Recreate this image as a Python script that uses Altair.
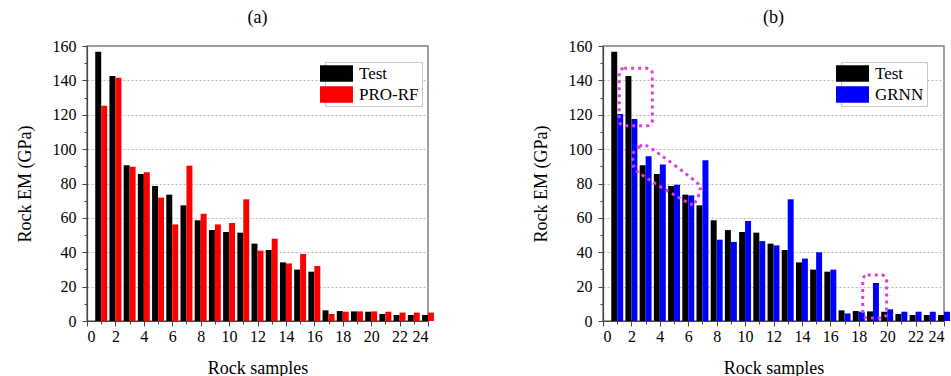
import altair as alt
import pandas as pd

samples = list(range(1, 25))
test = [156.7, 142.5, 90.6, 85.5, 78.5, 73.5, 67.3, 58.6, 52.9, 51.8, 51.4, 45.0,
        41.3, 34.1, 29.9, 28.7, 6.2, 5.8, 5.6, 5.4, 4.1, 3.5, 3.5, 3.5]
pro_rf = [125.2, 141.6, 89.8, 86.5, 71.8, 56.2, 90.4, 62.4, 56.2, 57.0, 70.8, 40.9,
          47.9, 33.5, 39.0, 32.0, 4.1, 5.4, 5.6, 5.6, 5.4, 4.9, 4.9, 4.9]
grnn = [120.4, 117.5, 95.8, 91.0, 79.3, 73.1, 93.5, 47.3, 46.0, 58.2, 46.5, 44.0,
        70.8, 36.3, 40.0, 29.9, 4.4, 5.4, 22.1, 6.8, 5.4, 5.4, 5.4, 5.4]

# annotation boxes (data coordinates) in panel (b)
box_x1 = [1.14, 18.28]
box_x2 = [3.47, 19.96]
box_y1 = [113.6, 1.7]
box_y2 = [147.0, 26.8]
# tilted capsule outline (data coordinates) in panel (b)
cap_x = [2.12, 2.58, 3.28, 6.54, 6.82, 6.54, 6.07, 2.58, 2.16]
cap_y = [97.5, 101.4, 101.0, 81.0, 76.2, 70.0, 68.5, 85.9, 91.7]

FONT = "Liberation Serif"
MAGENTA = "#e03ce0"
W, H = 341, 275
XSCALE = alt.Scale(domain=[0, 24], nice=False, zero=False)
YSCALE = alt.Scale(domain=[0, 160], nice=False)

XAXIS = alt.Axis(
    values=list(range(0, 25)),
    labelExpr="datum.value % 2 == 0 ? datum.label : ''",
    labelOverlap=False,
    title="Rock samples",
    titlePadding=15,
    labelPadding=2,
    grid=False,
    tickSize={"condition": {"test": "datum.value % 2 == 0", "value": 5}, "value": 3},
)
YAXIS = alt.Axis(
    values=list(range(0, 161, 10)),
    labelExpr="datum.value % 20 == 0 ? datum.label : ''",
    labelOverlap=False,
    title="Rock EM (GPa)",
    titlePadding=18,
    labelPadding=6,
    grid=True,
    gridDash=[2, 2],
    gridColor="#bbbbbb",
    gridOpacity={"condition": {"test": "datum.value % 20 == 0 && datum.value > 0 && datum.value < 160", "value": 1}, "value": 0},
    tickSize={"condition": {"test": "datum.value % 20 == 0", "value": 5}, "value": 3},
)


def panel(model_name, model_vals, color, title, annotate=False):
    df = pd.DataFrame({
        "sample": samples * 2,
        "value": test + model_vals,
        "series": ["Test"] * len(samples) + [model_name] * len(samples),
    })
    bars = alt.Chart(df).transform_calculate(
        x0="datum.series == 'Test' ? datum.sample - 0.42 : datum.sample",
        x1="datum.series == 'Test' ? datum.sample : datum.sample + 0.42",
    ).mark_bar(strokeWidth=0).encode(
        x=alt.X("x0:Q", scale=XSCALE, axis=XAXIS),
        x2="x1:Q",
        y=alt.Y("value:Q", scale=YSCALE, axis=YAXIS),
        y2=alt.datum(0),
        color=alt.Color(
            "series:N",
            scale=alt.Scale(domain=["Test", model_name], range=["#000000", color]),
            legend=alt.Legend(
                title=None,
                orient="none",
                legendX=238,
                legendY=16,
                symbolType="M-2,-1L2,-1L2,1L-2,1Z",
                symbolSize=272,
                symbolStrokeWidth=0,
                labelFont=FONT,
                labelFontSize=17,
                labelColor="#000000",
                strokeColor="#c8c8c8",
                fillColor="#ffffff",
                padding=3,
                rowPadding=3,
                labelOffset=14,
            ),
        ),
    )
    layers = [bars]
    if annotate:
        bdf = pd.DataFrame({"x1": box_x1, "x2": box_x2, "y1": box_y1, "y2": box_y2})
        boxes = alt.Chart(bdf).mark_rect(
            fillOpacity=0, stroke=MAGENTA, strokeWidth=3, strokeDash=[3, 4], cornerRadius=5
        ).encode(
            x=alt.X("x1:Q", scale=XSCALE, axis=XAXIS), x2="x2:Q",
            y=alt.Y("y1:Q", scale=YSCALE, axis=YAXIS), y2="y2:Q",
        )
        cdf = pd.DataFrame({"x": cap_x, "y": cap_y, "i": list(range(len(cap_x)))})
        cap = alt.Chart(cdf).mark_line(
            color=MAGENTA, strokeWidth=3, strokeDash=[3, 4], interpolate="cardinal-closed"
        ).encode(
            x=alt.X("x:Q", scale=XSCALE, axis=XAXIS),
            y=alt.Y("y:Q", scale=YSCALE, axis=YAXIS),
            order="i:Q",
        )
        layers += [boxes, cap]
    return alt.layer(*layers).properties(
        width=W, height=H,
        title=alt.TitleParams(title, font=FONT, fontSize=18, fontWeight="normal", offset=11, color="#000000"),
    )


a = panel("PRO-RF", pro_rf, "#ff0000", "(a)")
b = panel("GRNN", grnn, "#0000ff", "(b)", annotate=True)

chart = alt.hconcat(a, b, spacing=96).resolve_scale(color="independent").configure(
    padding={"left": 15, "top": 8, "right": 0, "bottom": 0}
).configure_view(
    stroke="#808080", strokeWidth=1.5
).configure_axis(
    labelFont=FONT, labelFontSize=16, labelColor="#000000",
    titleFont=FONT, titleFontSize=18, titleFontWeight="normal", titleColor="#000000",
    domainColor="#444444", tickColor="#444444", domainWidth=1.2,
).configure_legend(
    strokeColor="#c8c8c8"
)

chart.save("out.html", embed_options={"renderer": "svg", "actions": False})
